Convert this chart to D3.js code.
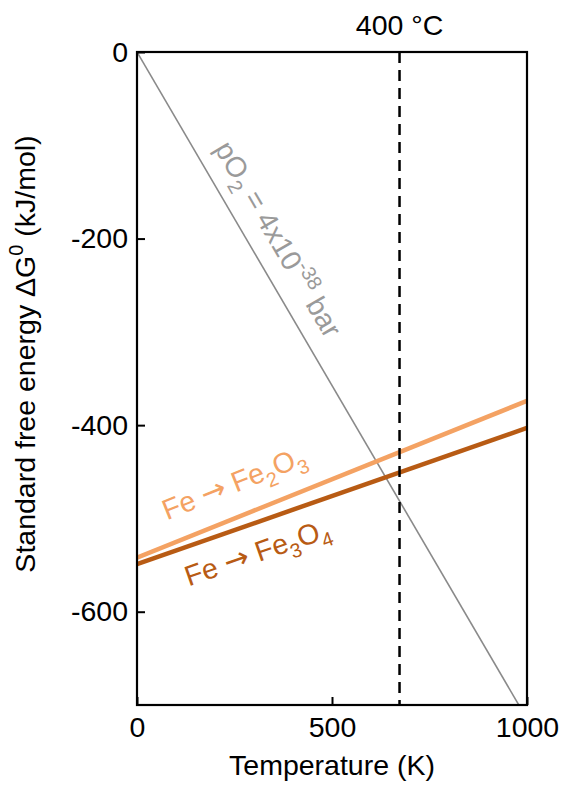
<!DOCTYPE html>
<html>
<head>
<meta charset="utf-8">
<script src="https://cdn.jsdelivr.net/npm/d3@7"></script>
<style>
  html, body { margin: 0; padding: 0; background: #fff; }
  svg { display: block; font-family: "Liberation Sans", Arial, sans-serif; }
</style>
</head>
<body>
<svg id="chart" width="561" height="788"></svg>
<script>
// ---- data ----
const temperatures = [0, 1000];            // K
const fe2o3 = [-542, -374];                // kJ/mol, Fe -> Fe2O3
const fe3o4 = [-549, -403];                // kJ/mol, Fe -> Fe3O4
const po2Line = [0, -715];                 // kJ/mol, pO2 = 4x10^-38 bar
const xTicks = [0, 500, 1000];
const yTicks = [0, -200, -400, -600];
const markerT = 673.15;                    // 400 °C

// ---- layout ----
const svg = d3.select("#chart");
const m = { left: 137, right: 527, top: 52, bottom: 705 };
const x = d3.scaleLinear().domain([0, 1000]).range([m.left, m.right]);
const y = d3.scaleLinear().domain([-700, 0]).range([m.bottom, m.top]);
const FS = 28.5;
const SUB = 20;

svg.append("defs").append("clipPath").attr("id", "clip")
  .append("rect").attr("x", m.left).attr("y", m.top)
  .attr("width", m.right - m.left).attr("height", m.bottom - m.top);

const plot = svg.append("g").attr("clip-path", "url(#clip)");
const line = d3.line().x(d => x(d[0])).y(d => y(d[1]));

// pO2 line
plot.append("path")
  .datum(temperatures.map((t, i) => [t, po2Line[i]]))
  .attr("d", line).attr("fill", "none")
  .attr("stroke", "#8a8a8a").attr("stroke-width", 1.6);

// Fe lines
plot.append("path")
  .datum(temperatures.map((t, i) => [t, fe3o4[i]]))
  .attr("d", line).attr("fill", "none")
  .attr("stroke", "#b85b14").attr("stroke-width", 4.5);
plot.append("path")
  .datum(temperatures.map((t, i) => [t, fe2o3[i]]))
  .attr("d", line).attr("fill", "none")
  .attr("stroke", "#f4a263").attr("stroke-width", 4.5);

// 400 °C dashed line
plot.append("line")
  .attr("x1", x(markerT)).attr("x2", x(markerT))
  .attr("y1", m.top).attr("y2", m.bottom)
  .attr("stroke", "#000").attr("stroke-width", 2.5)
  .attr("stroke-dasharray", "11,7");

svg.append("text")
  .attr("x", x(markerT)).attr("y", 35)
  .attr("text-anchor", "middle").attr("font-size", FS)
  .text("400 °C");

// axes
const xAxis = svg.append("g")
  .attr("transform", `translate(0,${m.bottom})`)
  .call(d3.axisBottom(x).tickValues(xTicks).tickSizeInner(-8).tickSizeOuter(0)
        .tickPadding(12).tickFormat(d => String(d)));
const yAxis = svg.append("g")
  .attr("transform", `translate(${m.left},0)`)
  .call(d3.axisLeft(y).tickValues(yTicks).tickSizeInner(-8).tickSizeOuter(0)
        .tickPadding(9).tickFormat(d => String(d)));
[xAxis, yAxis].forEach(a => {
  a.select(".domain").remove();
  a.selectAll(".tick line").attr("stroke", "#000").attr("stroke-width", 2);
  a.selectAll(".tick text").attr("font-size", FS).attr("fill", "#000")
    .attr("font-family", "'Liberation Sans', Arial, sans-serif");
});

// frame
svg.append("rect")
  .attr("x", m.left).attr("y", m.top)
  .attr("width", m.right - m.left).attr("height", m.bottom - m.top)
  .attr("fill", "none").attr("stroke", "#000").attr("stroke-width", 2.2);

// axis titles
svg.append("text")
  .attr("x", x(500)).attr("y", 775)
  .attr("text-anchor", "middle").attr("font-size", FS)
  .text("Temperature (K)");

const yt = svg.append("text")
  .attr("transform", `translate(35,${354}) rotate(-90)`)
  .attr("text-anchor", "middle").attr("font-size", FS);
yt.append("tspan").text("Standard free energy ΔG");
yt.append("tspan").attr("dy", -12).attr("font-size", SUB).text("0");
yt.append("tspan").attr("dy", 12).text(" (kJ/mol)");

// helper: angle of a data line on screen
function angleOf(vals) {
  return Math.atan2(y(vals[1]) - y(vals[0]), x(temperatures[1]) - x(temperatures[0])) * 180 / Math.PI;
}
function arrow(t) {
  t.append("tspan").text(" ");
  t.append("tspan").attr("font-family", "'DejaVu Sans', sans-serif")
    .attr("font-size", 30).text("\u2192");
  t.append("tspan").text(" ");
}

// Fe -> Fe2O3 label
{
  const a = angleOf(fe2o3);
  const t = svg.append("text")
    .attr("transform", `translate(${x(77)},${y(-502)}) rotate(${a})`)
    .attr("font-size", FS).attr("fill", "#f4a263");
  t.append("tspan").text("Fe");
  arrow(t);
  t.append("tspan").text("Fe");
  t.append("tspan").attr("dy", 8).attr("font-size", SUB).text("2");
  t.append("tspan").attr("dy", -8).text("O");
  t.append("tspan").attr("dy", 8).attr("font-size", SUB).text("3");
}
// Fe -> Fe3O4 label
{
  const a = angleOf(fe3o4);
  const t = svg.append("text")
    .attr("transform", `translate(${x(133)},${y(-573)}) rotate(${a})`)
    .attr("font-size", FS).attr("fill", "#b85b14");
  t.append("tspan").text("Fe");
  arrow(t);
  t.append("tspan").text("Fe");
  t.append("tspan").attr("dy", 8).attr("font-size", SUB).text("3");
  t.append("tspan").attr("dy", -8).text("O");
  t.append("tspan").attr("dy", 8).attr("font-size", SUB).text("4");
}
// pO2 label
{
  const a = angleOf(po2Line);
  const t = svg.append("text")
    .attr("transform", `translate(${x(341)},${y(-206)}) rotate(${a})`)
    .attr("text-anchor", "middle")
    .attr("font-size", FS).attr("fill", "#9a9a9a");
  t.append("tspan").text("pO");
  t.append("tspan").attr("dy", 8).attr("font-size", SUB).text("2");
  t.append("tspan").attr("dy", -8).text(" = 4x10");
  t.append("tspan").attr("dy", -12).attr("font-size", SUB).text("-38");
  t.append("tspan").attr("dy", 12).text(" bar");
}
</script>
</body>
</html>
